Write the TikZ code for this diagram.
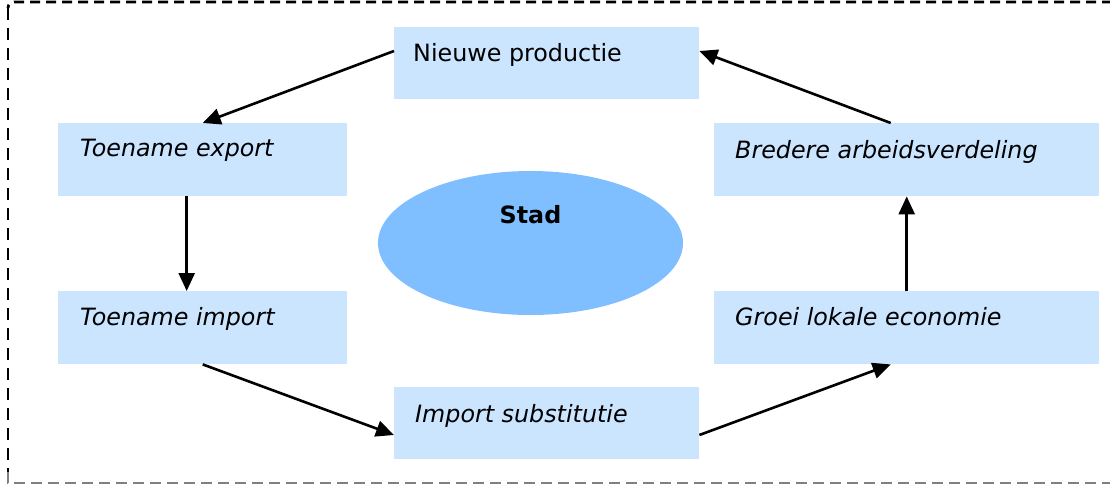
\documentclass[tikz,border=0pt]{standalone}
\usepackage{fontspec}
\setmainfont{DejaVu Sans}
\usetikzlibrary{arrows.meta,shapes.geometric}
\definecolor{boxblue}{HTML}{CCE5FF}
\definecolor{cityblue}{HTML}{80BFFF}
\definecolor{framegrey}{HTML}{808080}
\tikzset{
  stagebox/.style={draw=none, fill=boxblue, rectangle, anchor=north west, inner sep=0pt},
  lbl/.style={anchor=base west, inner sep=0pt, font=\fontsize{23.8}{27}\selectfont},
  ilbl/.style={lbl, font=\fontsize{23.8}{27}\selectfont\itshape},
  flow/.style={line width=2.6pt, -{Triangle[length=18pt,width=16pt]}},
}
\begin{document}
\begin{tikzpicture}[x=1pt, y=-1pt]
\useasboundingbox (0,0) rectangle (1110,484);

% dashed frame
\draw[line width=2.8pt, dash pattern=on 10pt off 6pt] (1112,2) -- (14,2) to[out=180,in=90] (8,8);
\draw[line width=2.8pt, dash pattern=on 12pt off 8pt] (8,8) -- (8,472);
\draw[line width=2.2pt, framegrey, dash pattern=on 11pt off 6pt] (8,472) -- (8,483) -- (1112,483);

% stage boxes
\node[stagebox, minimum width=305pt, minimum height=72pt] (np) at (394,27) {};
\node[stagebox, minimum width=289pt, minimum height=73pt] (tex) at (58,123) {};
\node[stagebox, minimum width=385pt, minimum height=73pt] (bre) at (714,123) {};
\node[stagebox, minimum width=289pt, minimum height=73pt] (tim) at (58,291) {};
\node[stagebox, minimum width=385pt, minimum height=73pt] (gle) at (714,291) {};
\node[stagebox, minimum width=305pt, minimum height=72pt] (isub) at (394,387) {};

% labels
\node[lbl] (tnp) at (413,62) {Nieuwe productie};
\node[ilbl] (ttex) at (80,157) {Toename export};
\node[ilbl] (tbre) at (735,158) {Bredere arbeidsverdeling};
\node[ilbl] (ttim) at (80,325) {Toename import};
\node[ilbl] (tgle) at (735,325) {Groei lokale economie};
\node[ilbl] (tisub) at (415,422) {Import substitutie};

% city
\node[ellipse, fill=cityblue, minimum width=305pt, minimum height=144pt, inner sep=0pt] (stad) at (530.5,243) {};
\node[anchor=base, inner sep=0pt, font=\fontsize{23.8}{27}\selectfont\bfseries] (tstad) at (530.5,223) {Stad};

% cycle
\draw[flow] ([yshift=-24pt]np.north west) -- (tex.north);
\draw[flow] ([xshift=-16pt]tex.south) -- ([xshift=-16pt]tim.north);
\draw[flow] (tim.south) -- ([yshift=-48pt]isub.north west);
\draw[flow] ([yshift=-48pt]isub.north east) -- ([xshift=-16pt]gle.south);
\draw[flow] (gle.north) -- (bre.south);
\draw[flow] ([xshift=-16pt]bre.north) -- ([yshift=-24pt]np.north east);
\end{tikzpicture}
\end{document}
